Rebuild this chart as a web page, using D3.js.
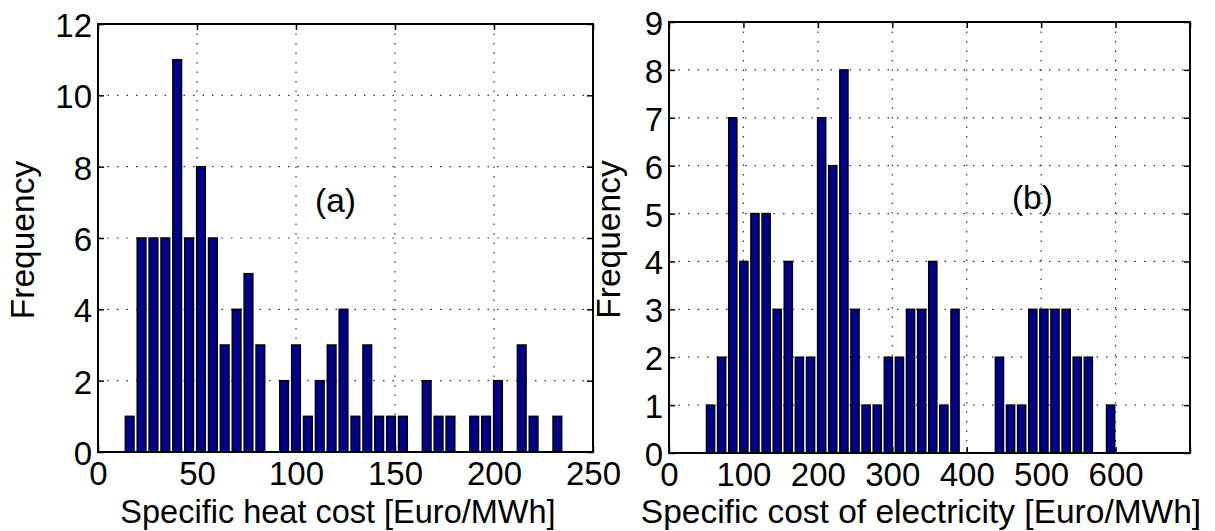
<!DOCTYPE html>
<html>
<head>
<meta charset="utf-8">
<script src="https://cdn.jsdelivr.net/npm/d3@7"></script>
<style>
  html, body { margin: 0; padding: 0; background: #fff; }
  svg { display: block; }
  text { font-family: "Liberation Sans", Arial, sans-serif; fill: #000; }
</style>
</head>
<body>
<svg id="chart" width="1215" height="531"></svg>
<script>
// ---------- data ----------
const heatBinCenters = [16, 22, 28, 34, 40, 46, 52, 58, 64, 70, 76, 82, 88, 94, 100, 106, 112, 118, 124, 130,
  136, 142, 148, 154, 160, 166, 172, 178, 184, 190, 196, 202, 208, 214, 220, 226, 232];
const heatCounts = [1, 6, 6, 6, 11, 6, 8, 6, 3, 4, 5, 3, 0, 2, 3, 1, 2, 3, 4, 1,
  3, 1, 1, 1, 0, 2, 1, 1, 0, 1, 1, 2, 0, 3, 1, 0, 1];
const heatBinWidth = 6;
const heatXTicks = [0, 50, 100, 150, 200, 250];
const heatYTicks = [0, 2, 4, 6, 8, 10, 12];

const elecBinCenters = [55.8, 70.7, 85.7, 100.6, 115.5, 130.5, 145.4, 160.3, 175.2, 190.2, 205.1, 220.0,
  235.0, 249.9, 264.8, 279.8, 294.7, 309.6, 324.5, 339.5, 354.4, 369.3, 384.3, 399.2, 414.1, 429.1,
  444.0, 458.9, 473.8, 488.8, 503.7, 518.6, 533.6, 548.5, 563.4, 578.4, 593.3];
const elecCounts = [1, 2, 7, 4, 5, 5, 3, 4, 2, 2, 7, 6, 8, 3, 1, 1, 2, 2, 3, 3, 4, 1, 3, 0, 0, 0,
  2, 1, 1, 3, 3, 3, 3, 2, 2, 0, 1];
const elecBinWidth = 14.93;
const elecXTicks = [0, 100, 200, 300, 400, 500, 600, 700];
const elecXTickLabels = ["0", "100", "200", "300", "400", "500", "600", ""];
const elecYTicks = [0, 1, 2, 3, 4, 5, 6, 7, 8, 9];

const panels = [
  { centers: heatBinCenters, counts: heatCounts, binW: heatBinWidth,
    xDomain: [0, 250], yDomain: [0, 12], xTicks: heatXTicks, xLabels: heatXTicks.map(String),
    yTicks: heatYTicks, xTitle: "Specific heat cost [Euro/MWh]", yTitle: "Frequency",
    tag: "(a)", tagPos: [109.6, 6.73], xTitleX: 338, xTitleSize: 32.5,
    box: { left: 98, right: 593, top: 24, bottom: 452 }, yTitleX: 34 },
  { centers: elecBinCenters, counts: elecCounts, binW: elecBinWidth,
    xDomain: [0, 700], yDomain: [0, 9], xTicks: elecXTicks, xLabels: elecXTickLabels,
    yTicks: elecYTicks, xTitle: "Specific cost of electricity [Euro/MWh]", yTitle: "Frequency",
    tag: "(b)", tagPos: [460.8, 5.09], xTitleX: 921, xTitleSize: 33.5,
    box: { left: 669, right: 1190, top: 22, bottom: 453 }, yTitleX: 620 }
];

const svg = d3.select("#chart");
const BAR_FILL = "#00008f";
const TICK_FONT = 33;
const LABEL_FONT = 33.5;

panels.forEach(p => {
  const b = p.box;
  const x = d3.scaleLinear().domain(p.xDomain).range([b.left, b.right]);
  const y = d3.scaleLinear().domain(p.yDomain).range([b.bottom, b.top]);
  const g = svg.append("g");

  // dotted grid
  const gridX = p.xTicks.filter(v => v > p.xDomain[0] && v < p.xDomain[1]);
  const gridY = p.yTicks.filter(v => v > p.yDomain[0] && v < p.yDomain[1]);
  g.append("g").selectAll("line").data(gridX).join("line")
    .attr("x1", d => x(d)).attr("x2", d => x(d))
    .attr("y1", b.top).attr("y2", b.bottom)
    .attr("stroke", "#333").attr("stroke-width", 1.2).attr("stroke-dasharray", "1.5,8");
  g.append("g").selectAll("line").data(gridY).join("line")
    .attr("x1", b.left).attr("x2", b.right)
    .attr("y1", d => y(d)).attr("y2", d => y(d))
    .attr("stroke", "#333").attr("stroke-width", 1.2).attr("stroke-dasharray", "1.5,8");

  // bars
  const frac = 0.73;
  g.append("g").selectAll("rect").data(p.centers.map((c, i) => ({ c, v: p.counts[i] })).filter(d => d.v > 0))
    .join("rect")
    .attr("x", d => x(d.c - p.binW * frac / 2))
    .attr("width", d => x(d.c + p.binW * frac / 2) - x(d.c - p.binW * frac / 2))
    .attr("y", d => y(d.v))
    .attr("height", d => y(0) - y(d.v))
    .attr("fill", BAR_FILL).attr("stroke", "#000").attr("stroke-width", 1.5);

  // axes: bottom/left with labels, ticks inside on all sides
  const axB = d3.axisBottom(x).tickValues(p.xTicks).tickFormat((d, i) => p.xLabels[i])
    .tickSizeInner(-6).tickSizeOuter(0).tickPadding(8);
  const gB = g.append("g").attr("transform", `translate(0,${b.bottom})`).call(axB);
  const axT = d3.axisTop(x).tickValues(p.xTicks).tickFormat("").tickSizeInner(-6).tickSizeOuter(0);
  const gT = g.append("g").attr("transform", `translate(0,${b.top})`).call(axT);
  const axL = d3.axisLeft(y).tickValues(p.yTicks).tickFormat(d3.format("d"))
    .tickSizeInner(-6).tickSizeOuter(0).tickPadding(6);
  const gL = g.append("g").attr("transform", `translate(${b.left},0)`).call(axL);
  const axR = d3.axisRight(y).tickValues(p.yTicks).tickFormat("").tickSizeInner(-6).tickSizeOuter(0);
  const gR = g.append("g").attr("transform", `translate(${b.right},0)`).call(axR);
  [gB, gT, gL, gR].forEach(a => {
    a.select(".domain").remove();
    a.selectAll(".tick line").attr("stroke", "#000").attr("stroke-width", 1.5);
    a.selectAll(".tick text").attr("font-size", TICK_FONT).attr("font-family", "Liberation Sans, Arial, sans-serif");
  });
  gB.selectAll(".tick text").attr("y", 33).attr("dy", 0);
  gL.selectAll(".tick text").attr("dy", "0.38em");

  // frame
  g.append("rect").attr("x", b.left).attr("y", b.top)
    .attr("width", b.right - b.left).attr("height", b.bottom - b.top)
    .attr("fill", "none").attr("stroke", "#000").attr("stroke-width", 2);

  // titles
  g.append("text").attr("x", p.xTitleX).attr("y", 523)
    .attr("text-anchor", "middle").attr("font-size", p.xTitleSize).text(p.xTitle);
  g.append("text").attr("transform", `translate(${p.yTitleX},${(b.top + b.bottom) / 2 + 2}) rotate(-90)`)
    .attr("text-anchor", "middle").attr("font-size", LABEL_FONT).text(p.yTitle);

  // panel tag
  g.append("text").attr("x", x(p.tagPos[0])).attr("y", y(p.tagPos[1]))
    .attr("font-size", LABEL_FONT).text(p.tag);
});
</script>
</body>
</html>
